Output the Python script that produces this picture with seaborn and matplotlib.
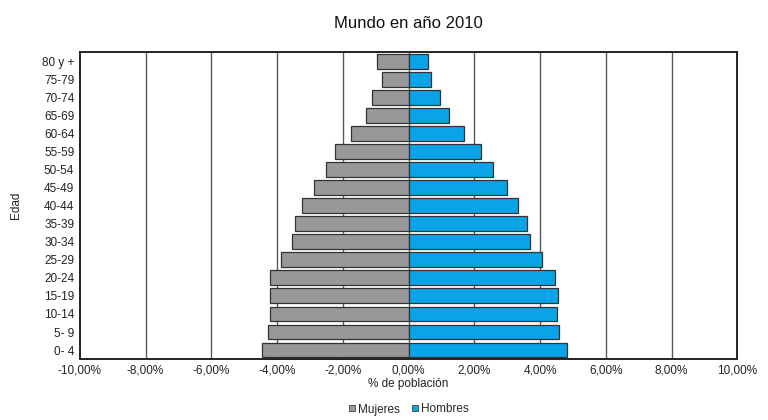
import matplotlib
matplotlib.use("Agg")
import matplotlib.pyplot as plt
import seaborn as sns
import pandas as pd
from matplotlib.ticker import FuncFormatter
from matplotlib.lines import Line2D

sns.set_theme(style="white")
plt.rcParams["font.family"] = ["Liberation Sans", "DejaVu Sans"]

# Age groups, oldest first (top of the pyramid)
grupos = ["80 y +", "75-79", "70-74", "65-69", "60-64", "55-59", "50-54",
          "45-49", "40-44", "35-39", "30-34", "25-29", "20-24", "15-19",
          "10-14", "5- 9", "0- 4"]
# Share of world population (%); women drawn to the left
mujeres = [-0.96, -0.81, -1.12, -1.31, -1.75, -2.24, -2.52, -2.89, -3.24,
           -3.47, -3.54, -3.87, -4.23, -4.23, -4.23, -4.27, -4.47]
hombres = [0.60, 0.67, 0.97, 1.24, 1.68, 2.21, 2.56, 2.99, 3.34,
           3.59, 3.69, 4.07, 4.46, 4.54, 4.53, 4.57, 4.81]
xticks = [-10, -8, -6, -4, -2, 0, 2, 4, 6, 8, 10]

df = pd.DataFrame({
    "Edad": grupos * 2,
    "valor": mujeres + hombres,
    "Sexo": ["Mujeres"] * len(grupos) + ["Hombres"] * len(grupos),
})

colores = {"Mujeres": "#989898", "Hombres": "#09a3e8"}

fig = plt.figure(figsize=(7.68, 4.2), dpi=100)
ax = fig.add_axes([0.104, 0.145, 0.856, 0.731])

for x in xticks[1:-1]:
    ax.axvline(x, color="#5a5a5a", lw=1.0, zorder=0)

sns.barplot(data=df, y="Edad", x="valor", hue="Sexo", order=grupos,
            hue_order=["Mujeres", "Hombres"], palette=colores, dodge=False,
            saturation=1, orient="h", width=0.82, edgecolor="#333333",
            linewidth=0.9, legend=False, ax=ax, zorder=2)

ax.set_xlim(-10, 10)
ax.set_xticks(xticks)
ax.xaxis.set_major_formatter(FuncFormatter(lambda v, p: f"{v:.2f}%".replace(".", ",")))
ax.tick_params(axis="both", length=0, labelsize=8.5, colors="#222222", pad=4)
ax.set_xlabel("% de población", fontsize=8.5, labelpad=1, color="#222222")
ax.set_ylabel("Edad", fontsize=8.5, color="#222222")
ax.yaxis.set_label_coords(-0.088, 0.5)
ax.set_title("Mundo en año 2010", fontsize=12, pad=17, color="#111111")

for s in ax.spines.values():
    s.set_color("#222222")
    s.set_linewidth(1.4)

handles = [Line2D([], [], marker="s", ls="", markersize=5,
                  markerfacecolor=colores[k], markeredgecolor="#444444",
                  markeredgewidth=0.6) for k in ["Mujeres", "Hombres"]]
fig.legend(handles, ["Mujeres", "Hombres"], loc="center",
           bbox_to_anchor=(0.53, 0.025), ncol=2, frameon=False,
           fontsize=8.5, handletextpad=0.0, columnspacing=0.8,
           handlelength=1.0)

fig.savefig("out.png", dpi=100)
